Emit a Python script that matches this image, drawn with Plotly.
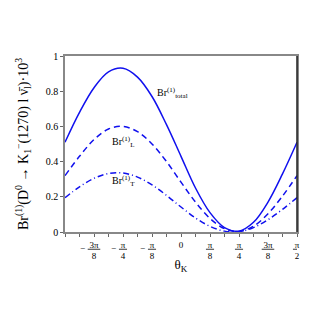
import numpy as np
import plotly.graph_objects as go

# theta_K in units of pi/16, from -pi/2 to pi/2
theta_steps = list(range(-8, 9))
theta = [k * np.pi / 16 for k in theta_steps]

br_total = [0.51, 0.68, 0.82, 0.91, 0.93, 0.88, 0.77, 0.61, 0.43, 0.25, 0.11, 0.025, 0.005,
            0.055, 0.17, 0.33, 0.51]
br_L = [0.32, 0.43, 0.525, 0.585, 0.60, 0.57, 0.50, 0.40, 0.283, 0.17, 0.077, 0.019, 0.003,
        0.033, 0.104, 0.204, 0.32]
br_T = [0.195, 0.257, 0.305, 0.332, 0.335, 0.312, 0.268, 0.208, 0.142, 0.080, 0.032, 0.005,
        0.002, 0.025, 0.070, 0.129, 0.195]

x_tickvals = theta
x_ticknum = ["", "", "3π", "", "π", "", "π", "", "0", "", "π", "", "π", "", "3π", "", "π"]
x_tickden = ["", "", "8", "", "4", "", "8", "", "", "", "8", "", "4", "", "8", "", "2"]
y_tickvals = [0, 0.2, 0.4, 0.6, 0.8, 1]
y_ticktext = ["0", "0.2", "0.4", "0.6", "0.8", "1"]

BLUE = "#1010ee"
FONT = "Liberation Serif"

fig = go.Figure()
fig.add_trace(go.Scatter(x=theta, y=br_total, mode="lines", line=dict(color=BLUE, width=1.5, shape="spline")))
fig.add_trace(go.Scatter(x=theta, y=br_L, mode="lines", line=dict(color=BLUE, width=1.5, shape="spline", dash="6px,4px")))
fig.add_trace(go.Scatter(x=theta, y=br_T, mode="lines", line=dict(color=BLUE, width=1.5, shape="spline", dash="6px,3px,1px,3px")))

labels = [num + "<br>" + den if den else num for num, den in zip(x_ticknum, x_tickden)]

# page body has an 8px margin, so the figure is a little smaller than the window
fig.update_layout(
    width=319, height=319,
    margin=dict(l=57, r=30, t=48, b=95),
    plot_bgcolor="white", paper_bgcolor="white",
    showlegend=False,
    font=dict(family=FONT, size=9, color="black"),
    xaxis=dict(
        range=[-np.pi / 2, np.pi / 2], tickvals=x_tickvals, ticktext=labels,
        ticks="outside", ticklen=3, tickcolor="#666", showgrid=False, zeroline=False,
        showline=True, linecolor="#888", linewidth=1.5, mirror=True, automargin=False,
        tickfont=dict(family=FONT, size=9),
        title=dict(text="θ<sub>K</sub>", font=dict(family=FONT, size=13), standoff=0),
    ),
    yaxis=dict(
        range=[0, 1], tickvals=y_tickvals, ticktext=y_ticktext,
        ticks="outside", ticklen=3, tickcolor="#666", showgrid=False, zeroline=False,
        showline=True, linecolor="#888", linewidth=1.5, mirror=True, automargin=False,
        tickfont=dict(family=FONT, size=10),
        title=dict(text="Br<sup>(1)</sup>(D<sup>0</sup> → K<sub>1</sub><sup>−</sup>(1270) l ν̄<sub>l</sub>)·10<sup>3</sup>",
                   font=dict(family=FONT, size=14), standoff=14),
    ),
)

# fraction bars and minus signs for the x tick labels
for val, num, den in zip(x_tickvals, x_ticknum, x_tickden):
    if not den:
        continue
    half = 0.085 if num == "3π" else 0.055
    fig.add_shape(type="line", xref="x", yref="paper", x0=val - half, x1=val + half,
                  y0=-0.098, y1=-0.098, line=dict(color="black", width=0.8))
    if val < 0:
        fig.add_annotation(x=val - half, y=-0.098, xref="x", yref="paper", xanchor="right", xshift=-1,
                           yshift=-6, text="−", showarrow=False, font=dict(family=FONT, size=9))

# right border drawn darker
fig.add_shape(type="line", xref="paper", yref="paper", x0=1, x1=1, y0=0, y1=1,
              line=dict(color="#222", width=1.5))

fig.add_annotation(x=-0.347, y=0.79, text="Br<sup>(1)</sup><sub>total</sub>", showarrow=False,
                   xanchor="left", font=dict(family=FONT, size=10))
fig.add_annotation(x=-0.96, y=0.51, text="Br<sup>(1)</sup><sub>L</sub>", showarrow=False,
                   xanchor="left", font=dict(family=FONT, size=10))
fig.add_annotation(x=-0.96, y=0.29, text="Br<sup>(1)</sup><sub>T</sub>", showarrow=False,
                   xanchor="left", font=dict(family=FONT, size=10))

fig.write_html("out.html")
